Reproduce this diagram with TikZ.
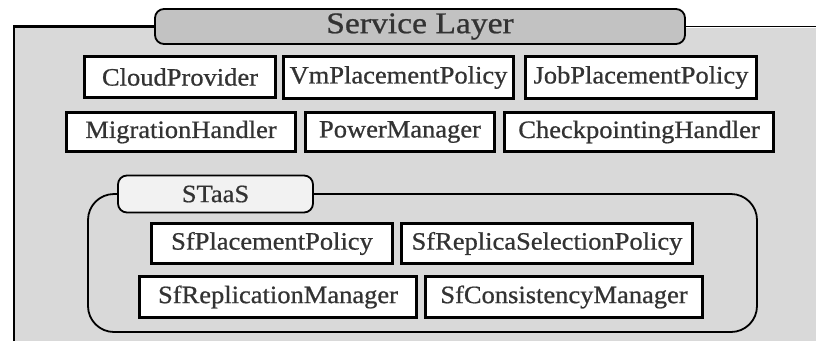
\documentclass[tikz,border=0pt]{standalone}
\usepackage{fontspec}
\setmainfont{Liberation Serif}
\newfontfamily\heavyserif[FakeBold=0.7]{Liberation Serif}
\definecolor{panelgray}{HTML}{D9D9D9}
\definecolor{tabgray}{HTML}{C2C2C2}
\definecolor{tablight}{HTML}{F2F2F2}
\definecolor{inkgray}{HTML}{333333}
\newcommand{\boxfont}{\heavyserif\fontsize{25}{25}\selectfont}
\newcommand{\titlefont}{\heavyserif\fontsize{30}{30}\selectfont}
\newcommand{\wtext}[2][1.06]{\scalebox{#1}[1]{#2}}
\tikzset{
  comp/.style={draw=black, line width=2.6pt, fill=white, inner sep=0pt,
    text=inkgray, font=\boxfont},
  tab/.style={draw=black, line width=1.8pt, rounded corners=9pt, inner sep=0pt,
    text=inkgray},
}
\begin{document}
\begin{tikzpicture}[x=1pt, y=-1pt]
\useasboundingbox (0,0) rectangle (816,341);

% grey service-layer panel
\fill[panelgray] (14,27.5) rectangle (816,341);

% title tab
\node[tab, fill=tabgray, minimum width=530pt, minimum height=35pt, font=\titlefont]
  (title) at (420,26.5) {\wtext[1.12]{Service Layer}};
\coordinate (pl) at (14,341);
\coordinate (pr) at (816,26.5);
\draw[line width=2.6pt] (pl) |- (title.west);
\draw[line width=1.8pt] (title.east) -- (title.east -| pr);

% service components, first row
\node[comp, minimum width=191pt, minimum height=41pt] (cp)  at (180,77)   {\wtext{CloudProvider}};
\node[comp, minimum width=230pt, minimum height=42pt] (vmp) at (398.5,77.5) {\wtext{VmPlacementPolicy}};
\node[comp, minimum width=231pt, minimum height=42pt] (jpp) at (641,77.5) {\wtext{JobPlacementPolicy}};

% second row
\node[comp, minimum width=229pt, minimum height=39pt] (mh)  at (181,132)  {\wtext{MigrationHandler}};
\node[comp, minimum width=189pt, minimum height=39pt] (pm)  at (400,132)  {\wtext{PowerManager}};
\node[comp, minimum width=269pt, minimum height=39pt] (ch)  at (639,132)  {\wtext{CheckpointingHandler}};

% STaaS container
\node[tab, fill=tablight, minimum width=195pt, minimum height=37pt, font=\boxfont]
  (staas) at (215.5,194) {\wtext{STaaS}};
\coordinate (cne) at (757,194);
\coordinate (cse) at (757,332);
\coordinate (csw) at (88,332);
\coordinate (cnw) at (88,194);
\draw[line width=1.8pt, rounded corners=26pt]
  (staas.east) -- (cne) -- (cse) -- (csw) -- (cnw) -- (staas.west);

% storage components
\node[comp, minimum width=241pt, minimum height=40pt] (spp) at (272,243.5) {\wtext{SfPlacementPolicy}};
\node[comp, minimum width=291pt, minimum height=40pt] (srs) at (547,243.5) {\wtext{SfReplicaSelectionPolicy}};
\node[comp, minimum width=277pt, minimum height=41pt] (srm) at (278,297)   {\wtext{SfReplicationManager}};
\node[comp, minimum width=277pt, minimum height=41pt] (scm) at (564,297)   {\wtext{SfConsistencyManager}};
\end{tikzpicture}
\end{document}
